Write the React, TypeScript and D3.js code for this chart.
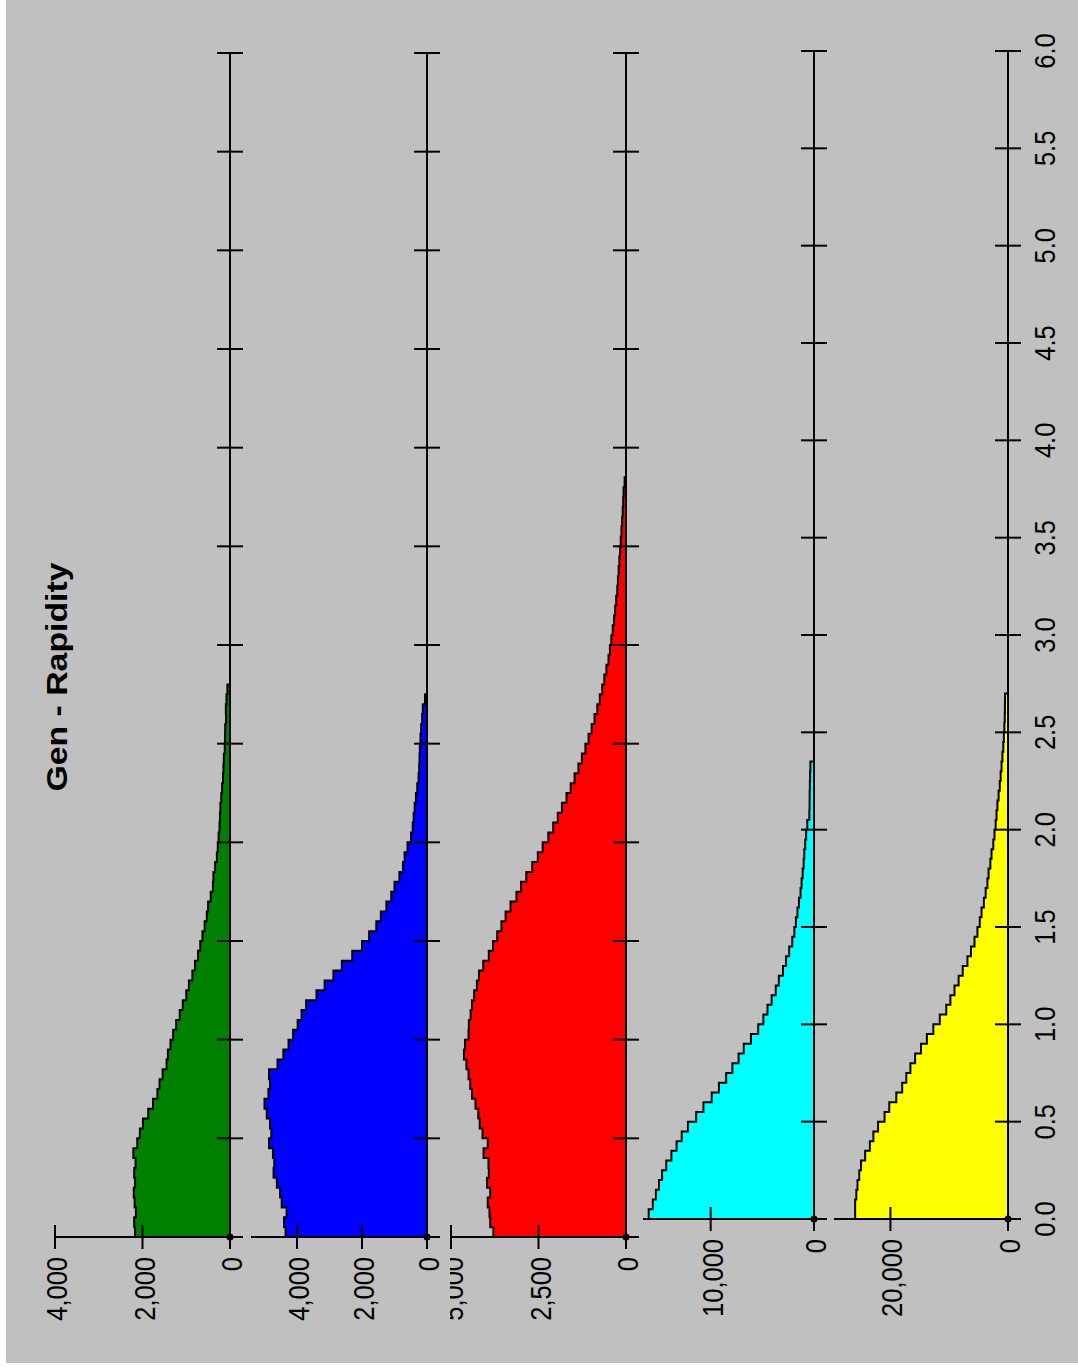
import React from "react";
import * as d3 from "d3";

// Rapidity histograms, bin width 0.05 starting at 0
const BIN_WIDTH = 0.05;
const rapidityTicks = [0, 0.5, 1, 1.5, 2, 2.5, 3, 3.5, 4, 4.5, 5, 5.5, 6];
const titleText = "Gen - Rapidity";

const greenCounts = [
  2170, 2190, 2150, 2180, 2200, 2170, 2190, 2160, 2210, 2120,
  2060, 1990, 1870, 1760, 1660, 1610, 1540, 1450, 1420, 1360,
  1300, 1230, 1150, 1080, 1000, 940, 860, 800, 730, 680,
  630, 580, 530, 500, 440, 390, 380, 340, 300, 280,
  260, 240, 230, 220, 200, 180, 160, 150, 140, 120,
  115, 110, 90, 95, 80, 60,
];
const blueCounts = [
  4350, 4400, 4320, 4470, 4520, 4620, 4720, 4700, 4740, 4860,
  4790, 4830, 4930, 5000, 4880, 4830, 4860, 4600, 4420, 4260,
  4120, 3980, 3860, 3720, 3400, 3150, 2880, 2620, 2300, 2000,
  1780, 1560, 1420, 1250, 1100, 1000, 850, 740, 690, 600,
  490, 440, 410, 380, 340, 300, 260, 240, 230, 220,
  200, 180, 150, 130, 60,
];
const redCounts = [
  3790, 3880, 3900, 3950, 3880, 3970, 3920, 3930, 4070, 3950,
  4100, 4180, 4220, 4300, 4400, 4450, 4500, 4560, 4630, 4600,
  4500, 4490, 4440, 4400, 4340, 4260, 4200, 4080, 3920, 3800,
  3680, 3560, 3440, 3300, 3130, 3000, 2850, 2680, 2520, 2380,
  2220, 2080, 1950, 1830, 1700, 1580, 1470, 1360, 1260, 1160,
  1070, 980, 900, 820, 750, 680, 620, 560, 500, 460,
  420, 380, 340, 310, 280, 250, 230, 210, 190, 170,
  150, 130, 110, 95, 80, 70, 40,
];
const cyanCounts = [
  16000, 15600, 15300, 15000, 14700, 14300, 13800, 13300, 12800, 12200,
  11400, 10700, 9900, 9200, 8500, 7900, 7300, 6800, 6100, 5400,
  4900, 4500, 4100, 3700, 3400, 3000, 2700, 2400, 2100, 1900,
  1750, 1600, 1450, 1300, 1200, 1100, 1000, 940, 850, 760,
  650, 450, 430, 420, 400, 380, 350,
];
const yellowCounts = [
  26000, 26000, 25800, 25600, 25300, 25000, 24300, 23500, 22900, 22100,
  21000, 20200, 19000, 18000, 17300, 16600, 15800, 14800, 13800, 12700,
  11600, 10500, 9800, 9100, 8400, 7700, 6900, 6300, 5700, 5200,
  4800, 4500, 4100, 3800, 3500, 3300, 3000, 2800, 2500, 2300,
  2100, 1950, 1800, 1600, 1400, 1250, 1100, 950, 800, 700,
  620, 550, 520, 500,
];

const greenTicks = [0, 2000, 4000];
const blueTicks = [0, 2000, 4000];
const redTicks = [0, 2500, 5000];
const cyanTicks = [0, 10000];
const yellowTicks = [0, 20000];

const W = 1078;
const H = 1367;
const FONT = "'Liberation Sans', Arial, Helvetica, sans-serif";

const panels = [
  { id: "g", fill: "#008000", data: greenCounts, ticks: greenTicks, vMax: 4000, x0: 230, xMax: 55, y0: 1237, y6: 53, clipX: 0 },
  { id: "b", fill: "#0000ff", data: blueCounts, ticks: blueTicks, vMax: 5415, x0: 427, xMax: 251, y0: 1237, y6: 53, clipX: 251 },
  { id: "r", fill: "#ff0000", data: redCounts, ticks: redTicks, vMax: 5000, x0: 626, xMax: 451, y0: 1237, y6: 53, clipX: 450 },
  { id: "c", fill: "#00ffff", data: cyanCounts, ticks: cyanTicks, vMax: 16550, x0: 814, xMax: 643, y0: 1219, y6: 51, clipX: 643 },
  { id: "y", fill: "#ffff00", data: yellowCounts, ticks: yellowTicks, vMax: 29600, x0: 1008, xMax: 834, y0: 1219, y6: 51, clipX: 834 },
];

const fmt = d3.format(",");
const rFmt = d3.format(".1f");

function Panel({ p, last }: { p: any; last: boolean }) {
  const rScale = d3.scaleLinear().domain([0, 6]).range([p.y0, p.y6]);
  const vScale = d3.scaleLinear().domain([0, p.vMax]).range([p.x0, p.xMax]);
  const pts: [number, number][] = [[vScale(0), rScale(0)]];
  p.data.forEach((v: number, i: number) => {
    pts.push([vScale(v), rScale(i * BIN_WIDTH)]);
    pts.push([vScale(v), rScale((i + 1) * BIN_WIDTH)]);
  });
  pts.push([vScale(0), rScale(p.data.length * BIN_WIDTH)]);
  const d = (d3.line()(pts) || "") + "Z";
  const ox = vScale(0);
  const oy = rScale(0);
  return (
    <g>
      <path d={d} fill={p.fill} stroke="#000" strokeWidth={2} strokeLinejoin="miter" />
      {/* rapidity axis */}
      <line x1={ox} x2={ox} y1={oy + 12} y2={rScale(6)} stroke="#000" strokeWidth={2} />
      {rapidityTicks.filter((t) => t > 0).map((t) => (
        <line key={t} x1={ox - 13} x2={ox + 13} y1={rScale(t)} y2={rScale(t)} stroke="#000" strokeWidth={2} />
      ))}
      {/* value axis */}
      <line x1={vScale(p.vMax)} x2={ox + 13} y1={oy} y2={oy} stroke="#000" strokeWidth={2} />
      {p.ticks.filter((t: number) => t > 0).map((t: number) => (
        <line key={t} x1={vScale(t)} x2={vScale(t)} y1={oy - 12} y2={oy + 12} stroke="#000" strokeWidth={2} />
      ))}
      <circle cx={ox} cy={oy} r={3.5} fill="#000" />
      <defs>
        <clipPath id={`clip-${p.id}`}>
          <rect x={p.clipX} y={0} width={W} height={H} />
        </clipPath>
      </defs>
      <g clipPath={`url(#clip-${p.id})`}>
        {p.ticks.map((t: number) => (
          <text
            key={t}
            transform={`translate(${vScale(t) + 12},${oy + 20}) rotate(-90) scale(0.85,1)`}
            textAnchor="end"
            fontFamily={FONT}
            fontSize={30}
            fill="#000"
          >
            {fmt(t)}
          </text>
        ))}
      </g>
      {last &&
        rapidityTicks.map((t) => (
          <text
            key={"r" + t}
            transform={`translate(${1055},${rScale(t)}) rotate(-90) scale(0.85,1)`}
            textAnchor="middle"
            fontFamily={FONT}
            fontSize={30}
            fill="#000"
          >
            {rFmt(t)}
          </text>
        ))}
    </g>
  );
}

export default function App() {
  return (
    <svg width={W} height={H} style={{ position: "absolute", left: 0, top: 0, display: "block" }}>
      <rect x={0} y={0} width={W} height={H} fill="#ffffff" />
      <rect x={6} y={0} width={W - 6} height={1363} fill="#c0c0c0" />
      <text
        transform={`translate(67,677) rotate(-90)`}
        textAnchor="middle"
        fontFamily={FONT}
        fontWeight="bold"
        fontSize={30}
        textLength={229}
        lengthAdjust="spacingAndGlyphs"
        fill="#000"
      >
        {titleText}
      </text>
      {panels.map((p, i) => (
        <Panel key={p.id} p={p} last={i === panels.length - 1} />
      ))}
    </svg>
  );
}
